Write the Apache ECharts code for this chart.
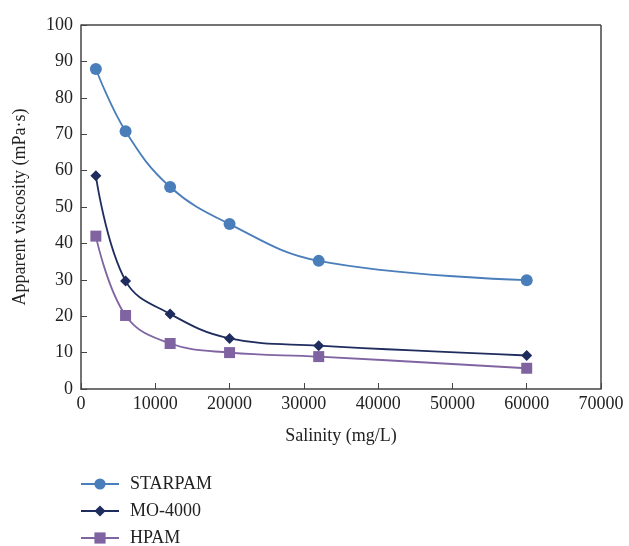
<!DOCTYPE html>
<html lang="en">
<head>
    <meta charset="UTF-8">
    <title>viscosity vs salinity</title>
    <script src="https://cdn.jsdelivr.net/npm/echarts@6/dist/echarts.min.js"></script>
</head>
<body style="margin:0;">
<div id="main" style="width: 629px; height: 546px;"></div>
<script type="text/javascript">
    const salinity = [2000, 6000, 12000, 20000, 32000, 60000];
    const starpam = [87.9, 70.8, 55.5, 45.3, 35.2, 29.9];
    const mo4000 = [58.6, 29.7, 20.6, 13.9, 11.9, 9.2];
    const hpam = [42.0, 20.2, 12.5, 10.0, 8.9, 5.7];

    function pairs(vals){
        return salinity.map(function (x, i){ return [x, vals[i]]; });
    }

    const font = 'Liberation Serif';
    let myChart = echarts.init(document.getElementById('main'));
    const option = {
        animation: false,
        textStyle: { fontFamily: font },
        grid: { left: 81, right: 28, top: 25, bottom: 157 },
        legend: {
            orient: 'vertical',
            left: 80, top: 475, height: 80, padding: 0,
            itemWidth: 38, itemHeight: 14, itemGap: 9,
            textStyle: { fontFamily: font, fontSize: 18, color: '#222', padding: [0, 0, 0, 6] },
            data: ['STARPAM', 'MO-4000', 'HPAM']
        },
        xAxis: {
            type: 'value', min: 0, max: 70000, interval: 10000,
            name: 'Salinity (mg/L)', nameLocation: 'middle', nameGap: 38,
            nameTextStyle: { fontFamily: font, fontSize: 18, color: '#222' },
            axisLine: { lineStyle: { color: '#444', width: 1.5 } },
            axisTick: { inside: true, length: 6, lineStyle: { color: '#444' } },
            axisLabel: { fontFamily: font, fontSize: 18, color: '#222', margin: 6,
                formatter: function (v){ return String(v); } },
            splitLine: { show: false }
        },
        yAxis: {
            type: 'value', min: 0, max: 100, interval: 10,
            name: 'Apparent viscosity (mPa·s)', nameLocation: 'middle', nameGap: 52,
            nameTextStyle: { fontFamily: font, fontSize: 18, color: '#222' },
            axisLine: { show: true, lineStyle: { color: '#444', width: 1.5 } },
            axisTick: { show: true, inside: true, length: 6, lineStyle: { color: '#444' } },
            axisLabel: { fontFamily: font, fontSize: 18, color: '#222', margin: 8 },
            splitLine: { show: false }
        },
        series: [
            {
                name: 'STARPAM', type: 'line', smooth: 0.4,
                symbol: 'circle', symbolSize: 12,
                color: '#4a7ebb', lineStyle: { width: 1.8 },
                data: pairs(starpam),
                markLine: {
                    silent: true, symbol: 'none', label: { show: false },
                    lineStyle: { color: '#444', width: 1.5, type: 'solid' },
                    data: [
                        [{ coord: [0, 100] }, { coord: [70000, 100] }],
                        [{ coord: [70000, 0] }, { coord: [70000, 100] }]
                    ]
                }
            },
            {
                name: 'MO-4000', type: 'line', smooth: 0.4,
                symbol: 'diamond', symbolSize: 11,
                color: '#1f2d5e', lineStyle: { width: 1.8 },
                data: pairs(mo4000)
            },
            {
                name: 'HPAM', type: 'line', smooth: 0.4,
                symbol: 'rect', symbolSize: 11,
                color: '#8064a2', lineStyle: { width: 1.8 },
                data: pairs(hpam)
            }
        ]
    };
    myChart.setOption(option);
</script>
</body>
</html>
